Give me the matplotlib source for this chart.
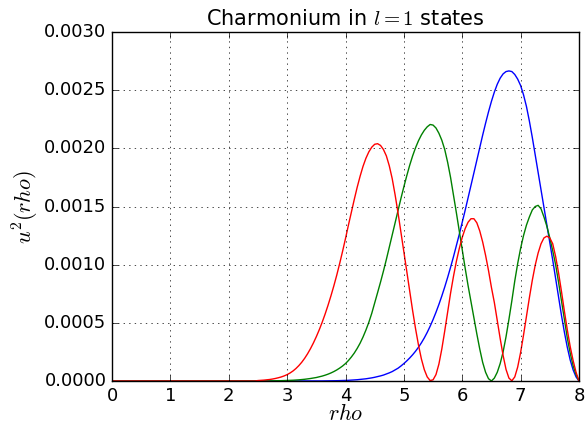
import matplotlib
matplotlib.use("Agg")
import matplotlib.pyplot as plt
import numpy as np

# rho grid, 0.00 .. 8.00 in steps of 0.05
rho = np.round(np.arange(0, 161) * 0.05, 2)

# u^2(rho), in units of 1e-4; below rho = 2.5 all three are ~0
tail = [0.0] * 50

u2_red = tail + [
    0.04, 0.055, 0.075, 0.10, 0.13, 0.17, 0.22, 0.28, 0.35, 0.44,      # 2.50
    0.55, 0.69, 0.86, 1.07, 1.32, 1.61, 1.95, 2.34, 2.78, 3.27,        # 3.00
    3.81, 4.40, 5.045, 5.745, 6.5, 7.31, 8.175, 9.1, 10.1, 11.15,      # 3.50
    12.25, 13.4, 14.5, 15.6, 16.65, 17.6, 18.45, 19.15, 19.7, 20.1,    # 4.00
    20.35, 20.4, 20.25, 19.9, 19.35, 18.5, 17.4, 16.0, 14.45, 12.8,    # 4.50
    11.1, 9.4, 7.7, 6.05, 4.5, 3.1, 1.9, 0.98, 0.35, 0.04,             # 5.00
    0.1, 0.55, 1.45, 2.75, 4.3, 5.95, 7.55, 9.0, 10.3, 11.4,           # 5.50
    12.35, 13.1, 13.65, 13.95, 13.95, 13.6, 12.9, 11.95, 10.8, 9.5,    # 6.00
    8.05, 6.75, 5.2, 3.65, 2.2, 1.0, 0.25, 0.02, 0.35, 1.2,            # 6.50
    2.45, 3.95, 5.55, 7.15, 8.65, 9.95, 11.0, 11.8, 12.3, 12.45,       # 7.00
    12.3, 11.8, 10.7, 9.3, 7.7, 6.0, 4.4, 2.95, 1.75, 0.75,            # 7.50
    0.0,
]

u2_green = tail + [
    0.004, 0.0055, 0.007, 0.009, 0.012, 0.015, 0.019, 0.024, 0.030, 0.037,  # 2.50
    0.045, 0.055, 0.067, 0.082, 0.10, 0.122, 0.148, 0.18, 0.215, 0.255,     # 3.00
    0.3, 0.357, 0.422, 0.499, 0.587, 0.691, 0.811, 0.949, 1.11, 1.29,       # 3.50
    1.5, 1.76, 2.06, 2.40, 2.80, 3.25, 3.78, 4.38, 5.05, 5.82,              # 4.00
    6.7, 7.6, 8.5, 9.45, 10.45, 11.5, 12.55, 13.6, 14.65, 15.7,             # 4.50
    16.7, 17.65, 18.55, 19.35, 20.05, 20.65, 21.15, 21.55, 21.85, 22.05,    # 5.00
    22.0, 21.75, 21.3, 20.7, 19.9, 18.8, 17.5, 16.0, 14.45, 12.85,          # 5.50
    11.25, 9.7, 8.2, 6.8, 5.4, 4.05, 2.75, 1.6, 0.75, 0.2,                  # 6.00
    0.0, 0.25, 0.75, 1.5, 2.5, 3.8, 5.3, 6.9, 8.6, 10.1,                    # 6.50
    11.4, 12.5, 13.4, 14.1, 14.7, 15.0, 15.1, 14.8, 14.1, 13.3,             # 7.00
    12.3, 11.2, 10.0, 8.5, 6.9, 5.3, 3.7, 2.4, 1.3, 0.55,                   # 7.50
    0.0,
]

u2_blue = tail + [
    0.0, 0.0, 0.0, 0.0, 0.0, 0.0, 0.0, 0.0, 0.0, 0.0,                       # 2.50
    0.0007, 0.0009, 0.0011, 0.0014, 0.0017, 0.002, 0.0025, 0.003, 0.0035, 0.004,  # 3.00
    0.005, 0.006, 0.008, 0.01, 0.013, 0.017, 0.021, 0.026, 0.033, 0.04,     # 3.50
    0.05, 0.06, 0.075, 0.09, 0.11, 0.135, 0.16, 0.19, 0.23, 0.27,           # 4.00
    0.32, 0.38, 0.44, 0.51, 0.60, 0.70, 0.81, 0.95, 1.10, 1.29,             # 4.50
    1.5, 1.73, 1.98, 2.255, 2.56, 2.90, 3.28, 3.705, 4.18, 4.705,           # 5.00
    5.28, 5.905, 6.58, 7.305, 8.08, 8.905, 9.775, 10.685, 11.635, 12.62,    # 5.50
    13.635, 14.675, 15.735, 16.81, 17.895, 18.985, 20.075, 21.135, 22.16, 23.135,  # 6.00
    24.035, 24.835, 25.51, 26.035, 26.4, 26.6, 26.655, 26.6, 26.35, 25.95,  # 6.50
    25.4, 24.6, 23.6, 22.35, 20.95, 19.45, 17.95, 16.45, 14.95, 13.45,      # 7.00
    11.95, 10.4, 8.8, 7.2, 5.65, 4.2, 2.9, 1.8, 0.95, 0.35,                 # 7.50
    0.0,
]

plt.style.use("classic")
plt.rcParams["mathtext.fontset"] = "cm"
plt.rcParams["font.size"] = 12

fig = plt.figure(figsize=(5.85, 4.28), dpi=100, facecolor="white")
ax = fig.add_axes([0.1915, 0.1098, 0.7982, 0.8154])

scale = 1e-4
ax.plot(rho, np.array(u2_blue) * scale, color="b", linewidth=1.0)
ax.plot(rho, np.array(u2_green) * scale, color="g", linewidth=1.0)
ax.plot(rho, np.array(u2_red) * scale, color="r", linewidth=1.0)

ax.set_xlim(0, 8)
ax.set_ylim(0, 0.003)
ax.set_xticks(range(0, 9))
ax.set_yticks(np.arange(0, 0.0031, 0.0005))
ax.yaxis.set_major_formatter(matplotlib.ticker.FormatStrFormatter("%.4f"))
ax.tick_params(labelsize=13)
ax.grid(True)

ax.set_title("Charmonium in $l=1$ states", fontsize=15)
ax.set_xlabel("$rho$", fontsize=16, labelpad=-1)
ax.set_ylabel("$u^2(rho)$", fontsize=16, labelpad=2)

fig.savefig("out.png", dpi=100, facecolor="white")
